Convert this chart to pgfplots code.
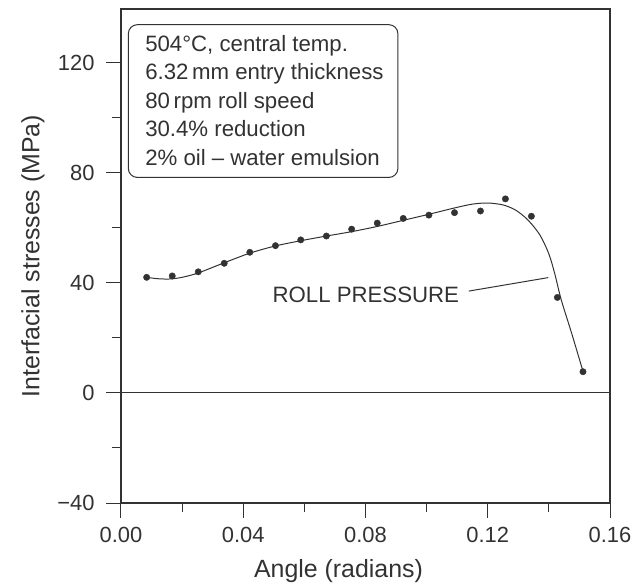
\documentclass[border=0pt]{standalone}
\usepackage{pgfplots}
\pgfplotsset{compat=1.18}
\usepackage{fontspec}
\setmainfont{Liberation Sans}
\definecolor{ink}{RGB}{50,50,50}
\pgfplotstableread{
x y
0.00839 42.0
0.01677 42.5
0.02527 44.0
0.03377 47.1
0.04215 51.1
0.05054 53.5
0.05881 55.6
0.06720 57.0
0.07547 59.5
0.08385 61.7
0.09235 63.4
0.10074 64.6
0.10912 65.5
0.11762 66.1
0.12578 70.5
0.13428 64.2
0.14278 34.7
0.15116 7.7
}\measured
\pgfplotstableread{
x y
0.0084 42.0
0.0120 41.5
0.0160 41.4
0.0200 42.0
0.0253 43.6
0.0338 47.3
0.0422 50.8
0.0505 53.4
0.0588 55.3
0.0672 57.0
0.0755 58.6
0.0839 60.5
0.0923 62.7
0.1007 64.9
0.1091 67.2
0.1150 68.6
0.1200 69.0
0.1250 68.3
0.1290 66.5
0.1330 63.0
0.1370 57.5
0.1400 50.5
0.1420 43.0
0.1440 34.0
0.1475 21.5
0.1512 7.7
}\fitted
\begin{document}
\begin{tikzpicture}
\path[use as bounding box] (-121bp,-81bp) rectangle (523bp,503bp);
\begin{axis}[
  at={(0,0)}, anchor=south west,
  scale only axis, width=489bp, height=494bp,
  xmin=0, xmax=0.16, ymin=-40, ymax=139.5,
  axis line style={ink, line width=1.1pt},
  xtick pos=left, ytick pos=left,
  tick align=outside,
  xtick={0,0.04,0.08,0.12,0.16},
  xticklabels={0.00,0.04,0.08,0.12,0.16},
  minor xtick={0.02,0.06,0.10,0.14},
  ytick={-40,0,40,80,120},
  yticklabels={−40,0,40,80,120},
  minor ytick={-20,20,60,100},
  major tick length=15bp, minor tick length=9bp,
  every tick/.style={ink, line width=1pt},
  /pgf/number format/assume math mode=true,
  ticklabel style={font=\fontsize{22}{22}\selectfont, text=ink},
  xticklabel style={yshift=-6bp},
  yticklabel style={xshift=-8bp},
  xlabel={Angle (radians)},
  ylabel={Interfacial stresses (MPa)},
  label style={font=\fontsize{25}{25}\selectfont, text=ink},
  xlabel style={at={(axis description cs:0.5,0)}, anchor=base, yshift=-74bp, xshift=-27bp},
  ylabel style={at={(axis description cs:0,0.5)}, anchor=center, yshift=88bp},
  clip mode=individual,
]
\addplot[ink, line width=1pt, forget plot] coordinates {(0,0) (0.16,0)};
\addplot[ink, line width=1pt, smooth, tension=0.5] table[x=x,y=y] {\fitted};
\addplot[only marks, mark=*, mark size=3.2bp, ink, mark options={fill=ink, draw=ink}] table[x=x,y=y] {\measured};
\draw[ink, line width=1pt, rounded corners=9bp] (axis cs:0.0024,133.8) rectangle (axis cs:0.0906,78.3);
\begin{scope}[every node/.style={anchor=base west, inner sep=0pt, text=ink, font=\fontsize{22.3}{22.3}\selectfont}]
\node at (axis cs:0.00787,124.2) {504°C, central temp.};
\node at (axis cs:0.00787,113.85) {6.32\,mm entry thickness};
\node at (axis cs:0.00787,103.5) {80\,rpm roll speed};
\node at (axis cs:0.00787,93.1) {30.4\% reduction};
\node at (axis cs:0.00787,82.8) {2\% oil – water emulsion};
\end{scope}
\node[anchor=center, inner sep=0pt, text=ink, font=\fontsize{22.3}{22.3}\selectfont] at (axis cs:0.0801,35.8) {ROLL PRESSURE};
\draw[ink, line width=1pt] (axis cs:0.1138,37.0) -- (axis cs:0.1398,41.9);
\end{axis}
\end{tikzpicture}
\end{document}
